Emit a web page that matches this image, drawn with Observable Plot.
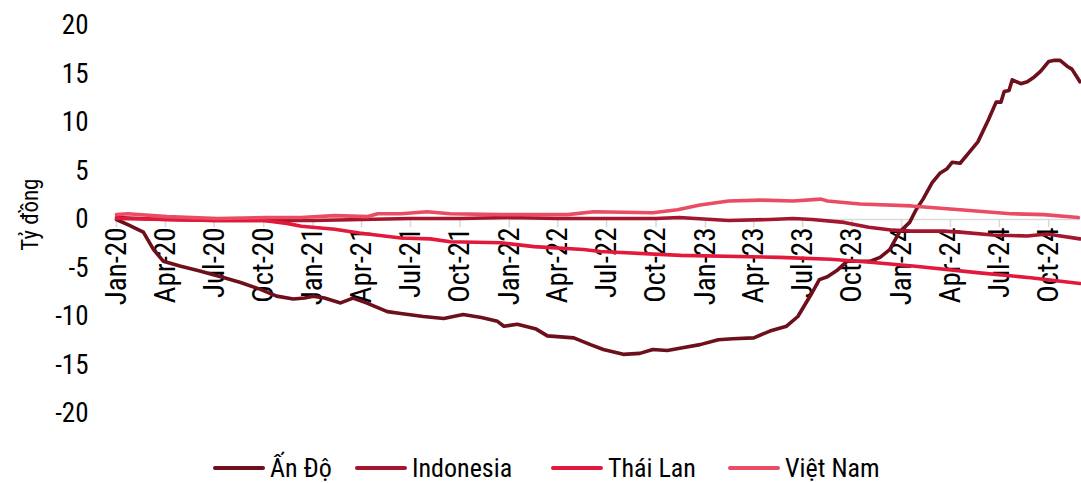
<!DOCTYPE html>
<html>
<head>
<meta charset="utf-8">
<script src="https://cdn.jsdelivr.net/npm/d3@7"></script>
<script src="https://cdn.jsdelivr.net/npm/@observablehq/plot@0.6"></script>
<style>
  html, body { margin: 0; padding: 0; background: #fff; }
  body { width: 1081px; height: 483px; overflow: hidden; font-family: "Roboto Condensed", "Liberation Sans", sans-serif; }
  #legend { position: relative; width: 1081px; height: 43px; }
  .item { position: absolute; top: 13px; display: flex; align-items: center; font-size: 26px; color: #000; line-height: 30px; white-space: nowrap; }
  .swatch { display: inline-block; width: 52px; height: 4px; border-radius: 2px; margin-right: 5px; }
</style>
</head>
<body>
<div id="chart"></div>
<div id="legend"></div>
<script>
// ---- Data ----
const seriesNames = ["Ấn Độ", "Indonesia", "Thái Lan", "Việt Nam"];
const seriesColors = ["#6E0F1C", "#A3162E", "#E3193B", "#EA4C63"];

const anDo = [
  ["2020-01-01", 0], ["2020-01-25", -0.6], ["2020-02-20", -1.3], ["2020-03-10", -3.1], ["2020-03-28", -4.3],
  ["2020-04-28", -4.8], ["2020-06-04", -5.3], ["2020-07-13", -5.9], ["2020-08-19", -6.5], ["2020-09-25", -7.2],
  ["2020-10-25", -7.9], ["2020-11-25", -8.2], ["2020-12-16", -8.1], ["2021-01-01", -7.9], ["2021-01-22", -8.1],
  ["2021-02-21", -8.6], ["2021-03-16", -8.1], ["2021-04-10", -8.6], ["2021-05-19", -9.5], ["2021-06-13", -9.7],
  ["2021-07-25", -10.0], ["2021-09-01", -10.2], ["2021-10-07", -9.8], ["2021-11-10", -10.1], ["2021-12-10", -10.5],
  ["2021-12-22", -11.0], ["2022-01-16", -10.8], ["2022-02-20", -11.3], ["2022-03-13", -12.0], ["2022-05-01", -12.2],
  ["2022-06-01", -12.9], ["2022-06-25", -13.4], ["2022-08-01", -13.9], ["2022-09-01", -13.8], ["2022-09-25", -13.4],
  ["2022-10-22", -13.5], ["2022-11-22", -13.2], ["2022-12-22", -12.9], ["2023-01-25", -12.4], ["2023-02-21", -12.3],
  ["2023-04-01", -12.2], ["2023-05-01", -11.5], ["2023-06-01", -11.0], ["2023-06-22", -10.0], ["2023-07-19", -7.5],
  ["2023-08-01", -6.2], ["2023-08-16", -5.9], ["2023-09-04", -5.2], ["2023-09-22", -4.3], ["2023-11-04", -4.3],
  ["2023-11-22", -3.9], ["2023-12-10", -3.1], ["2023-12-28", -1.3], ["2024-01-16", -0.3], ["2024-01-28", 1.0],
  ["2024-02-10", 2.1], ["2024-02-27", 3.8], ["2024-03-13", 4.8], ["2024-03-25", 5.2], ["2024-04-04", 5.9],
  ["2024-04-19", 5.8], ["2024-05-07", 7.0], ["2024-05-22", 8.0], ["2024-06-10", 10.2], ["2024-06-25", 12.1],
  ["2024-07-04", 12.1], ["2024-07-10", 13.2], ["2024-07-19", 13.3], ["2024-07-25", 14.4], ["2024-08-10", 14.0],
  ["2024-08-22", 14.2], ["2024-09-04", 14.7], ["2024-09-16", 15.3], ["2024-10-01", 16.3], ["2024-10-10", 16.4],
  ["2024-10-22", 16.4], ["2024-11-04", 15.8], ["2024-11-13", 15.5], ["2024-11-28", 14.2]
];

const indonesia = [
  ["2020-01-01", 0.2], ["2020-04-01", 0.0], ["2020-07-01", -0.1], ["2020-10-01", -0.1], ["2021-01-01", -0.1],
  ["2021-04-01", 0.0], ["2021-07-01", 0.1], ["2021-10-01", 0.1], ["2022-01-01", 0.2], ["2022-04-01", 0.1],
  ["2022-07-01", 0.1], ["2022-10-01", 0.1], ["2022-11-13", 0.2], ["2023-02-13", -0.1], ["2023-05-01", 0.0],
  ["2023-06-13", 0.1], ["2023-07-19", 0.0], ["2023-09-16", -0.3], ["2023-11-01", -0.8], ["2023-12-16", -1.1],
  ["2024-01-19", -1.2], ["2024-03-19", -1.2], ["2024-04-19", -1.3], ["2024-06-19", -1.6], ["2024-08-22", -1.7],
  ["2024-09-28", -1.5], ["2024-11-28", -2.0]
];

const thaiLan = [
  ["2020-01-01", 0.1], ["2020-04-01", 0.0], ["2020-07-01", -0.1], ["2020-10-01", -0.1], ["2020-11-13", -0.4],
  ["2020-12-10", -0.7], ["2021-02-10", -1.0], ["2021-03-28", -1.4], ["2021-06-13", -1.9], ["2021-08-07", -2.0],
  ["2021-09-13", -2.3], ["2021-12-16", -2.4], ["2022-02-16", -2.8], ["2022-05-19", -3.1], ["2022-06-19", -3.3],
  ["2022-11-16", -3.7], ["2023-05-19", -3.9], ["2023-08-22", -4.1], ["2023-11-04", -4.4], ["2024-01-22", -4.8],
  ["2024-05-25", -5.5], ["2024-08-28", -6.0], ["2024-11-28", -6.6]
];

const vietNam = [
  ["2020-01-01", 0.5], ["2020-01-22", 0.6], ["2020-04-04", 0.3], ["2020-07-07", 0.1], ["2020-10-07", 0.2],
  ["2020-12-10", 0.2], ["2021-02-10", 0.4], ["2021-04-13", 0.3], ["2021-05-01", 0.6], ["2021-06-13", 0.6],
  ["2021-08-01", 0.8], ["2021-09-13", 0.6], ["2021-12-16", 0.5], ["2022-02-16", 0.5], ["2022-04-19", 0.5],
  ["2022-06-07", 0.8], ["2022-09-25", 0.7], ["2022-11-10", 1.0], ["2022-12-22", 1.5], ["2023-02-13", 1.9],
  ["2023-04-13", 2.0], ["2023-06-13", 1.9], ["2023-08-04", 2.1], ["2023-08-16", 1.9], ["2023-10-16", 1.6],
  ["2024-01-19", 1.4], ["2024-04-19", 1.0], ["2024-07-22", 0.6], ["2024-09-22", 0.5], ["2024-11-25", 0.2]
];

const xTickLabels = ["Jan-20","Apr-20","Jul-20","Oct-20","Jan-21","Apr-21","Jul-21","Oct-21",
  "Jan-22","Apr-22","Jul-22","Oct-22","Jan-23","Apr-23","Jul-23","Oct-23",
  "Jan-24","Apr-24","Jul-24","Oct-24"];
const yTicks = [-20, -15, -10, -5, 0, 5, 10, 15, 20];
const yLabel = "Tỷ đồng";

// ---- Build ----
const parseDate = d3.utcParse("%Y-%m-%d");
const parseTick = d3.utcParse("%b-%y");
const allSeries = [anDo, indonesia, thaiLan, vietNam];
const rows = allSeries.flatMap((s, i) => s.map(([d, v]) => ({series: seriesNames[i], date: parseDate(d), value: v})));
const tickDates = xTickLabels.map(t => ({label: t, date: parseTick(t)}));
const fontFamily = '"Roboto Condensed", "Liberation Sans", sans-serif';

const chart = Plot.plot({
  width: 1081,
  height: 440,
  marginLeft: 116,
  marginRight: 1,
  marginTop: 25,
  marginBottom: 27,
  style: {fontFamily, fontSize: "27px", color: "#000", background: "#fff"},
  x: {type: "utc", domain: [parseDate("2020-01-01"), parseDate("2024-11-29")], axis: null},
  y: {domain: [-20, 20], ticks: yTicks, tickSize: 0, tickPadding: 28, tickFormat: d => String(d), label: null},
  color: {domain: seriesNames, range: seriesColors},
  marks: [
    Plot.ruleY([0], {stroke: "#d9d9d9", strokeWidth: 1.5}),
    Plot.ruleX(tickDates, {x: "date", y1: 0, y2: -0.85, stroke: "#d9d9d9", strokeWidth: 1.5}),
    Plot.text(tickDates, {x: "date", y: 0, text: "label", rotate: -90, textAnchor: "end", dy: 8, fontSize: 29, fill: "#000"}),
    Plot.lineY(rows, {x: "date", y: "value", z: "series", stroke: "series", strokeWidth: 3.6, strokeLinejoin: "round", strokeLinecap: "round"}),
    Plot.text([yLabel], {text: d => d, y: () => 0.5, frameAnchor: "left", textAnchor: "middle", dx: -86, rotate: -90, fontSize: 23, fill: "#000"})
  ]
});
document.getElementById("chart").appendChild(chart);

// Legend (HTML, below the SVG)
const legendLeft = [213, 355, 551, 728];
const legend = document.getElementById("legend");
seriesNames.forEach((name, i) => {
  const item = document.createElement("div");
  item.className = "item";
  item.style.left = legendLeft[i] + "px";
  const sw = document.createElement("span");
  sw.className = "swatch";
  sw.style.background = seriesColors[i];
  const label = document.createElement("span");
  label.textContent = name;
  item.appendChild(sw);
  item.appendChild(label);
  legend.appendChild(item);
});
</script>
</body>
</html>
